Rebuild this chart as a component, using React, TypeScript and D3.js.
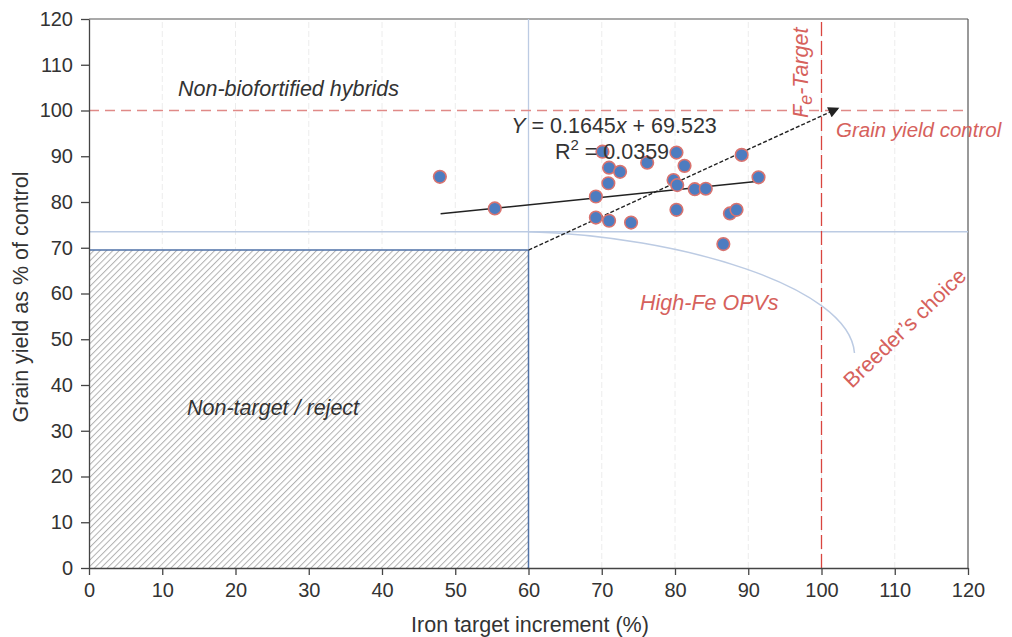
import React, { useEffect, useRef } from "react";
import * as d3 from "d3";

// iron increment (%) and grain yield (% of control) of the OPVs
const ironIncrement = [47.9, 55.4, 70.1, 71.0, 72.5, 70.9, 69.2, 69.2, 71.0, 74.0, 76.2, 80.2, 81.3, 79.8, 80.3, 82.7, 84.2, 80.2, 89.1, 91.4, 87.5, 88.4, 86.6];
const grainYield = [85.5, 78.6, 91.0, 87.5, 86.6, 84.1, 81.2, 76.6, 75.9, 75.5, 88.6, 90.8, 87.9, 84.8, 83.7, 82.8, 82.9, 78.3, 90.3, 85.4, 77.5, 78.3, 70.8];

const tickValues = [0, 10, 20, 30, 40, 50, 60, 70, 80, 90, 100, 110, 120];

// regression fit
const slope = 0.1645;
const intercept = 69.523;
const fitRange = [48, 91.4];

// reference levels
const yieldControl = 100;
const feTarget = 100;
const rejectIron = 60;
const rejectYield = 69.5;
const breederYield = 73.5;
const arrowEnd = [102.3, 100.5];
// breeder's choice curve (start, control1, control2, end)
const breederCurve = [[60, 73.5], [80.5, 72.6], [103.8, 61.6], [104.5, 47]];

const W = 1012;
const H = 637;
const margin = { left: 89, right: 44, top: 19, bottom: 69 };
const font = "'Liberation Sans', Arial, sans-serif";
const red = "#d6615c";
const textGray = "#333";

export default function App() {
  const xAxisRef = useRef(null);
  const yAxisRef = useRef(null);

  const x = d3.scaleLinear().domain([0, 120]).range([margin.left, W - margin.right]);
  const y = d3.scaleLinear().domain([0, 120]).range([H - margin.bottom, margin.top]);

  useEffect(() => {
    const gx = d3.select(xAxisRef.current);
    gx.call(d3.axisBottom(x).tickValues(tickValues).tickSize(7).tickPadding(8).tickSizeOuter(0));
    const gy = d3.select(yAxisRef.current);
    gy.call(d3.axisLeft(y).tickValues(tickValues).tickSize(8).tickPadding(8).tickSizeOuter(0));
    [gx, gy].forEach((g) => {
      g.selectAll("path, line").attr("stroke", "#444").attr("stroke-width", 1.3);
      g.selectAll("text").attr("font-family", font).attr("font-size", 20).attr("fill", textGray);
    });
  }, []);

  const pts = ironIncrement.map((v, i) => [v, grainYield[i]]);
  const [c0, c1, c2, c3] = breederCurve;
  const curvePath = `M${x(c0[0])},${y(c0[1])} C${x(c1[0])},${y(c1[1])} ${x(c2[0])},${y(c2[1])} ${x(c3[0])},${y(c3[1])}`;

  return (
    <svg width={W} height={H} style={{ position: "absolute", left: 0, top: 0, background: "#fff" }}>
      <defs>
        <pattern id="hatch" width="4.5" height="4.5" patternUnits="userSpaceOnUse" patternTransform="rotate(45)">
          <rect width="4.5" height="4.5" fill="#fff" />
          <line x1="0" y1="0" x2="0" y2="4.5" stroke="#b0b0b0" strokeWidth="2" />
        </pattern>
        <marker id="arrow" viewBox="0 0 10 10" refX="9" refY="5" markerWidth="13" markerHeight="11" orient="auto" markerUnits="userSpaceOnUse">
          <path d="M0,0 L10,5 L0,10 z" fill="#222" />
        </marker>
      </defs>

      {/* vertical dashed grid */}
      {tickValues.slice(1, -1).map((t) => (
        <line key={t} x1={x(t)} x2={x(t)} y1={y(0)} y2={y(120)} stroke="#ececec" strokeDasharray="6,3" />
      ))}

      {/* plot frame top and right */}
      <line x1={x(0)} x2={x(120)} y1={y(120)} y2={y(120)} stroke="#555" strokeWidth={1.2} />
      <line x1={x(120)} x2={x(120)} y1={y(120)} y2={y(0)} stroke="#555" strokeWidth={1.2} />

      {/* reject zone */}
      <rect x={x(0)} y={y(rejectYield)} width={x(rejectIron) - x(0)} height={y(0) - y(rejectYield)} fill="url(#hatch)" />
      <path d={`M${x(0)},${y(rejectYield)} H${x(rejectIron)} V${y(0)}`} fill="none" stroke="#4f72a8" strokeWidth={1.5} />

      {/* light blue breeder lines */}
      <line x1={x(0)} x2={x(120)} y1={y(breederYield)} y2={y(breederYield)} stroke="#bccbe3" strokeWidth={1.3} />
      <line x1={x(rejectIron)} x2={x(rejectIron)} y1={y(120)} y2={y(rejectYield)} stroke="#bccbe3" strokeWidth={1.3} />
      <path d={curvePath} fill="none" stroke="#bccbe3" strokeWidth={1.5} />

      {/* control and target */}
      <line x1={x(0)} x2={x(120)} y1={y(yieldControl)} y2={y(yieldControl)} stroke="#e08a88" strokeWidth={1.5} strokeDasharray="10,6" />
      <line x1={x(feTarget)} x2={x(feTarget)} y1={y(0)} y2={y(120)} stroke="#d9453f" strokeWidth={1.3} strokeDasharray="14,5" />

      {/* dashed arrow */}
      <line x1={x(rejectIron)} y1={y(rejectYield)} x2={x(arrowEnd[0])} y2={y(arrowEnd[1])} stroke="#222" strokeWidth={1.4} strokeDasharray="4,2" markerEnd="url(#arrow)" />

      {/* regression */}
      <line x1={x(fitRange[0])} y1={y(slope * fitRange[0] + intercept)} x2={x(fitRange[1])} y2={y(slope * fitRange[1] + intercept)} stroke="#222" strokeWidth={1.5} />

      {pts.map((p, i) => (
        <circle key={i} cx={x(p[0])} cy={y(p[1])} r={6.3} fill="#4d7cc0" stroke="#d9736f" strokeWidth={1.6} />
      ))}

      <g ref={xAxisRef} transform={`translate(0,${y(0)})`} />
      <g ref={yAxisRef} transform={`translate(${x(0)},0)`} />

      <g fontFamily={font} fontSize={21.5}>
        <text x={178} y={96} fontStyle="italic" fill={textGray}>Non-biofortified hybrids</text>
        <text x={614} y={133} textAnchor="middle" fill={textGray}>
          <tspan fontStyle="italic">Y</tspan> = 0.1645<tspan fontStyle="italic">x</tspan> + 69.523
        </text>
        <text x={612} y={159} textAnchor="middle" fill={textGray}>
          R<tspan dy={-9} fontSize={15}>2</tspan><tspan dy={9}> = 0.0359</tspan>
        </text>
        <text x={187} y={415} fontStyle="italic" fill={textGray}>Non-target / reject</text>
        <text x={640} y={310} fontStyle="italic" fill={red}>High-Fe OPVs</text>
        <text x={836} y={137} fontStyle="italic" fontSize={20.5} fill={red}>Grain yield control</text>
        <text transform="translate(808,118) rotate(-90)" fontStyle="italic" fill={red}>
          F<tspan dy={4} fontSize={18}>e</tspan><tspan dy={-4}>-Target</tspan>
        </text>
        <text transform="translate(852,389) rotate(-44)" fill={red}>Breeder’s choice</text>
        <text x={530} y={632} textAnchor="middle" fill={textGray}>Iron target increment (%)</text>
        <text transform="translate(28,297) rotate(-90)" textAnchor="middle" fill={textGray}>Grain yield as % of control</text>
      </g>
    </svg>
  );
}
